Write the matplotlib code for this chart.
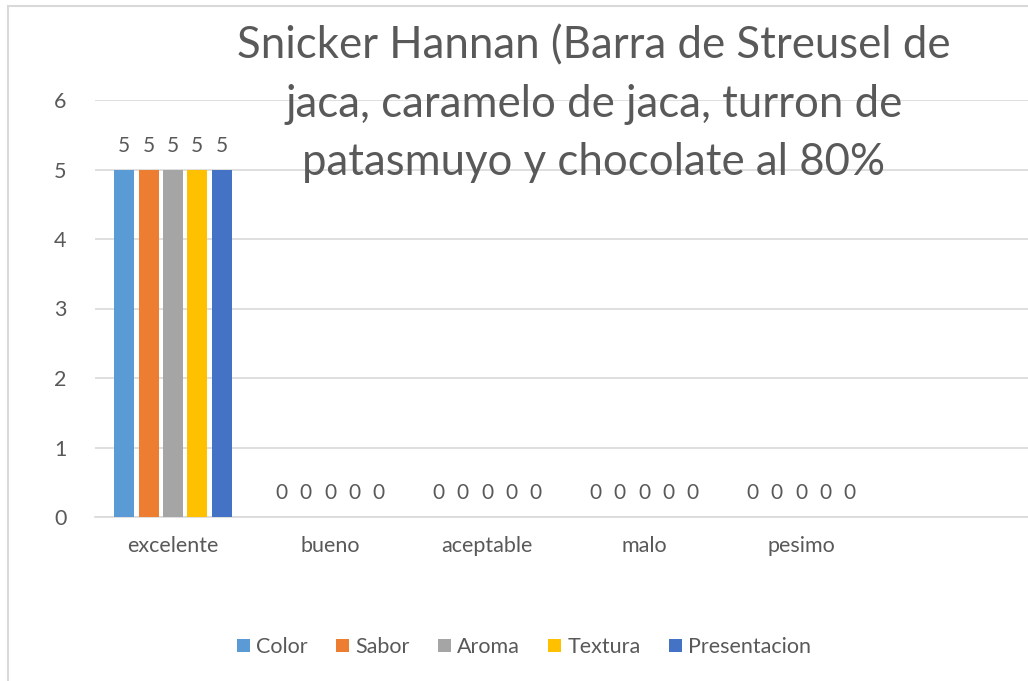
import matplotlib.pyplot as plt
import matplotlib.patches as mpatches
import numpy as np

plt.rcParams['font.family'] = ['Lato', 'DejaVu Sans']

title = 'Snicker Hannan (Barra de Streusel de\njaca, caramelo de jaca, turron de\npatasmuyo y chocolate al 80%'
categorias = ['excelente', 'bueno', 'aceptable', 'malo', 'pesimo']
series = ['Color', 'Sabor', 'Aroma', 'Textura', 'Presentacion']
valores = [
    [5, 0, 0, 0, 0],  # Color
    [5, 0, 0, 0, 0],  # Sabor
    [5, 0, 0, 0, 0],  # Aroma
    [5, 0, 0, 0, 0],  # Textura
    [5, 0, 0, 0, 0],  # Presentacion
]
colores = ['#5B9BD5', '#ED7D31', '#A5A5A5', '#FFC000', '#4472C4']
gris = '#595959'

W, H = 1028, 681
fig = plt.figure(figsize=(W / 100, H / 100), dpi=100)

# chart border (cropped on right and bottom in the reference)
fig.patches.append(mpatches.Rectangle((8 / W, -0.1), 1.2, 1.1 - 6 / H,
                                      transform=fig.transFigure, fill=False,
                                      edgecolor='#d9d9d9', linewidth=1.5))

# axes extends past the right edge, like the cropped original
ax = fig.add_axes([94.5 / W, 1 - 517 / H, 942 / W, 417 / H])

x = np.arange(len(categorias))
paso = 0.155
ancho = 0.128
for i, nombre in enumerate(series):
    barras = ax.bar(x + (i - 2) * paso, valores[i], ancho, color=colores[i],
                    label=nombre, zorder=3)
    ax.bar_label(barras, padding=10, fontsize=15, color=gris)

ax.set_xlim(-0.5, 5.5)
ax.set_ylim(0, 6)
ax.set_yticks(range(7))
ax.set_xticks(x)
ax.set_xticklabels(categorias)
ax.grid(axis='y', color='#d9d9d9', linewidth=1.2, zorder=0)
for s in ['left', 'right', 'top']:
    ax.spines[s].set_visible(False)
ax.spines['bottom'].set_color('#d9d9d9')
ax.spines['bottom'].set_linewidth(1.2)
ax.tick_params(axis='both', length=0, colors=gris, labelsize=15.5)
ax.tick_params(axis='y', pad=20)
ax.tick_params(axis='x', pad=14)

fig.text(594 / W, 1 - 104 / H, title, ha='center', va='center',
         fontsize=31.5, color=gris, linespacing=1.52)

handles, labels = ax.get_legend_handles_labels()
fig.legend(handles, labels, loc='center', bbox_to_anchor=(524 / W, 1 - 647 / H),
           ncol=5, frameon=False, fontsize=15.5, labelcolor=gris,
           handlelength=0.6, handleheight=0.6, handletextpad=0.3,
           columnspacing=1.3)

fig.savefig('out.png', dpi=100)
